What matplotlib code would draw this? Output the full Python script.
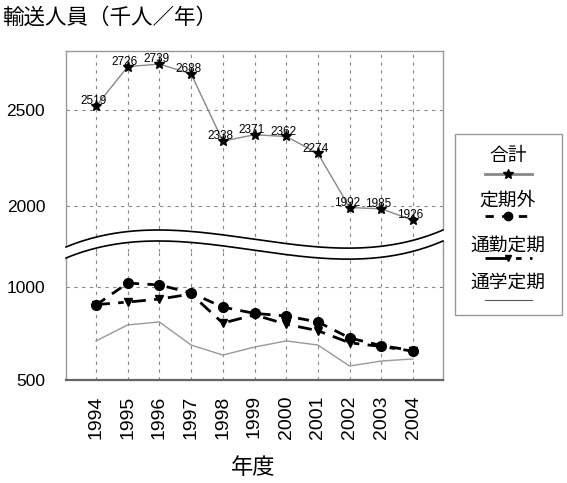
import numpy as np
import matplotlib
matplotlib.use("Agg")
import matplotlib.pyplot as plt
from matplotlib.lines import Line2D
from matplotlib.patches import Rectangle, Polygon

plt.rcParams['font.family'] = ['Liberation Sans', 'Noto Sans CJK JP', 'DejaVu Sans']

years = [1994, 1995, 1996, 1997, 1998, 1999, 2000, 2001, 2002, 2003, 2004]
total = [2519, 2726, 2739, 2688, 2338, 2371, 2362, 2274, 1992, 1985, 1926]
teikigai = [903, 1021, 1011, 968, 892, 858, 844, 812, 726, 685, 658]
tsukin = [905, 919, 935, 962, 806, 850, 800, 765, 700, 680, 655]
tsugaku = [710, 796, 812, 688, 634, 677, 710, 688, 575, 602, 613]
series_names = ['合計', '定期外', '通勤定期', '通学定期']
upper_ticks = [2000, 2500]
lower_ticks = [500, 1000]

W, H = 567, 483
fig = plt.figure(figsize=(W / 100, H / 100), dpi=100)


def P(x, y):
    return (x / W, 1 - y / H)


def rect(x0, y0, x1, y1):
    return [x0 / W, 1 - y1 / H, (x1 - x0) / W, (y1 - y0) / H]


ax_up = fig.add_axes(rect(66, 51, 443, 252))
ax_lo = fig.add_axes(rect(66, 252, 443, 380))

xl = (1993.054, 2004.946)
for ax in (ax_up, ax_lo):
    ax.set_xlim(*xl)
    ax.set_xticks(years)
    for s in ax.spines.values():
        s.set_color('#999999')
        s.set_linewidth(1.0)
    ax.grid(True, color='#888888', linestyle=(0, (3, 4)), linewidth=0.8)
    ax.set_axisbelow(True)
    ax.tick_params(axis='y', length=0, pad=15, labelsize=12.5)

ax_up.set_ylim(1760.4, 2807.3)
ax_up.set_yticks(upper_ticks)
ax_up.spines['bottom'].set_visible(False)
ax_up.tick_params(axis='x', length=0, labelbottom=False)

ax_lo.set_ylim(500, 1188)
ax_lo.set_yticks(lower_ticks)
ax_lo.spines['top'].set_visible(False)
ax_lo.spines['bottom'].set_color('#666666')
ax_lo.spines['bottom'].set_linewidth(1.6)
ax_lo.tick_params(axis='x', length=0, pad=11, labelsize=14, labelrotation=90)

# data
ax_up.plot(years, total, color='#888888', lw=1, marker='*', ms=8,
           mfc='black', mec='black', zorder=3)
for x, v in zip(years, total):
    ax_up.annotate(str(v), (x, v), xytext=(-2, 3.5), textcoords='offset points',
                   ha='center', va='center', fontsize=8.5, zorder=4)

ax_lo.plot(years, tsugaku, color='#999999', lw=1, zorder=2)
ax_lo.plot(years, tsukin, color='black', lw=2, ls=(0, (5, 3, 2, 3)),
           marker='v', ms=6, zorder=3)
ax_lo.plot(years, teikigai, color='black', lw=2, ls=(0, (4, 3)),
           marker='o', ms=7, zorder=3)

# wavy axis break
t = np.linspace(0, 1, 200)
bx = 66 + 377 * t
c0, c1, c2, c3 = 247, 195, 284, 230
by = (1 - t) ** 3 * c0 + 3 * (1 - t) ** 2 * t * c1 + 3 * (1 - t) * t ** 2 * c2 + t ** 3 * c3
by2 = by + 11
fx = np.concatenate([[64], bx, [445], [445], bx[::-1], [64]])
fy = np.concatenate([[by[0]], by, [by[-1]], [by2[-1]], by2[::-1], [by2[0]]])
poly = Polygon(np.column_stack([fx / W, 1 - fy / H]), closed=True,
               facecolor='white', edgecolor='none', transform=fig.transFigure, zorder=5)
fig.add_artist(poly)
fig.add_artist(Line2D(bx / W, 1 - by / H, color='black', lw=1.2, transform=fig.transFigure, zorder=6))
fig.add_artist(Line2D(bx / W, 1 - by2 / H, color='black', lw=1.2, transform=fig.transFigure, zorder=6))

# titles
fig.text(*P(2, 18), '輸送人員（千人／年）', fontsize=15.5, ha='left', va='center',
         family=['Noto Sans CJK JP', 'DejaVu Sans'])
fig.text(*P(253, 467), '年度', fontsize=16, ha='center', va='center',
         family=['Noto Sans CJK JP', 'DejaVu Sans'])

# legend (manual)
fig.add_artist(Rectangle(P(455, 315), 107 / W, 181 / H, transform=fig.transFigure,
                         facecolor='white', edgecolor='#999999', lw=1, zorder=7))
cx = 508
rows = [(155, 174), (200, 216), (245, 258), (282, 300)]
styles = [
    dict(color='#888888', lw=2, marker='*', ms=7, mfc='black', mec='black'),
    dict(color='black', lw=2, ls=(0, (3, 3)), marker='o', ms=6),
    dict(color='black', lw=2, ls=(0, (8, 3, 2, 3)), marker='v', ms=5),
    dict(color='#555555', lw=0.8),
]
for name, (ty, ly), st in zip(series_names, rows, styles):
    fig.text(*P(cx, ty), name, fontsize=13.5, ha='center', va='center', zorder=8,
             family=['Noto Sans CJK JP', 'DejaVu Sans'])
    st = dict(st)
    marker = st.pop('marker', None)
    ms = st.pop('ms', None)
    mfc = st.pop('mfc', None)
    mec = st.pop('mec', None)
    fig.add_artist(Line2D([485 / W, 532 / W], [1 - ly / H, 1 - ly / H],
                          transform=fig.transFigure, zorder=8, **st))
    if marker:
        fig.add_artist(Line2D([cx / W], [1 - ly / H], marker=marker, ms=ms,
                              color='black', mfc=mfc or 'black', mec=mec or 'black',
                              ls='none', transform=fig.transFigure, zorder=9))

fig.savefig('out.png', dpi=100)
